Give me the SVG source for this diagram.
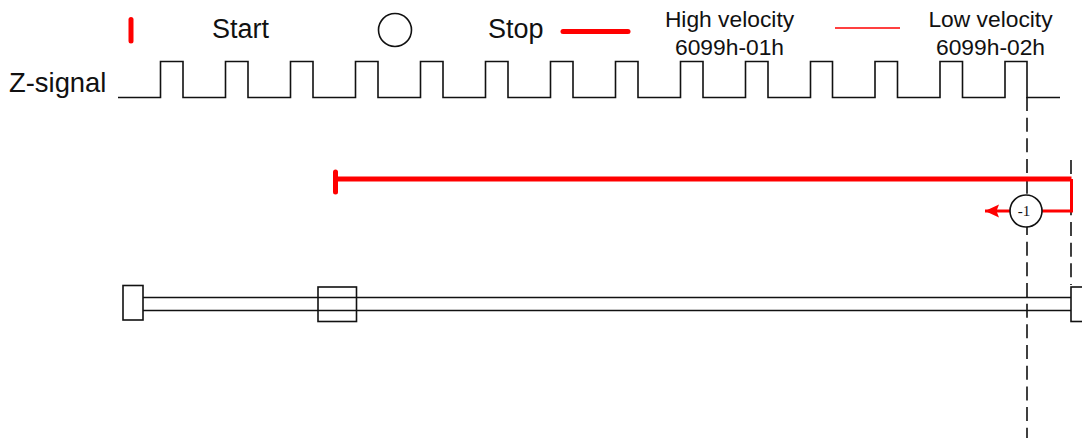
<svg xmlns="http://www.w3.org/2000/svg" width="1082" height="438" viewBox="0 0 1082 438">
<style>
text{font-family:"Liberation Sans",Arial,sans-serif;fill:#111}
.t{font-size:27px}
.s{font-size:22.8px;text-anchor:middle}
.k{fill:none;stroke:#111;stroke-width:1.6}
.b{fill:#fff;stroke:#111;stroke-width:1.6}
.d{fill:none;stroke:#111;stroke-width:1.6;stroke-dasharray:14 6.67}
.r{fill:none;stroke:#f00;stroke-linecap:round;stroke-linejoin:round}
</style>
<defs><marker id="a" markerUnits="userSpaceOnUse" markerWidth="15" markerHeight="14" refX="14" refY="7" orient="auto"><path d="M0 0.5L14 7L0 13.5L2.5 7Z" fill="#f00"/></marker></defs>
<g id="legend">
<line class="r" x1="131" y1="19.5" x2="131" y2="41" stroke-width="5"/>
<text class="t" x="212" y="38">Start</text>
<circle class="b" cx="395" cy="30" r="16.5"/>
<text class="t" x="488" y="38">Stop</text>
<line class="r" x1="563" y1="31.5" x2="628" y2="31.5" stroke-width="5"/>
<text class="s" x="729.5" y="27">High velocity</text>
<text class="s" x="729.5" y="54.5">6099h-01h</text>
<line x1="835" y1="28" x2="900" y2="28" stroke="#f00" stroke-width="1.6"/>
<text class="s" x="990.5" y="27">Low velocity</text>
<text class="s" x="990.5" y="54.5">6099h-02h</text>
</g>
<g id="z-signal">
<text x="9" y="92" font-size="27.4">Z-signal</text>
<path class="k" d="M118 97.5H160.5V61.5H183V97.5H225.5V61.5H248V97.5H290.5V61.5H313V97.5H355.5V61.5H378V97.5H420.5V61.5H443V97.5H485.5V61.5H508V97.5H550.5V61.5H573V97.5H615.5V61.5H638V97.5H680.5V61.5H703V97.5H745.5V61.5H768V97.5H810.5V61.5H832.5V97.5H875V61.5H897.5V97.5H940V61.5H962.5V97.5H1005V61.5H1027V97.5H1060"/>
</g>
<g id="rail">
<line class="k" x1="143" y1="297.5" x2="1071" y2="297.5"/>
<line class="k" x1="143" y1="310.5" x2="1071" y2="310.5"/>
</g>
<g id="left-stop"><rect class="b" x="123" y="285.5" width="20" height="34.5"/></g>
<g id="carriage"><rect x="318" y="287" width="38.5" height="34.5" fill="none" stroke="#111" stroke-width="1.6"/></g>
<g id="right-stop"><rect class="b" x="1071" y="287" width="20" height="34.5"/></g>
<g id="connectors">
<line class="d" x1="1027" y1="97" x2="1027" y2="438"/>
<line class="d" x1="1071" y1="160" x2="1071" y2="285"/>
<path class="r" d="M335.5 172V192" stroke-width="5"/>
<path d="M335.5 179H1071.5" fill="none" stroke="#f00" stroke-width="5"/>
<path d="M1071.5 179V211H1042" fill="none" stroke="#f00" stroke-width="3"/>
<line x1="1010" y1="211" x2="985" y2="211" stroke="#f00" stroke-width="3" marker-end="url(#a)"/>
</g>
<g id="minus-one">
<circle class="b" cx="1026" cy="211" r="16"/>
<text x="1024" y="216" font-size="15" text-anchor="middle" style="font-family:'Liberation Serif',serif">-1</text>
</g>
</svg>
